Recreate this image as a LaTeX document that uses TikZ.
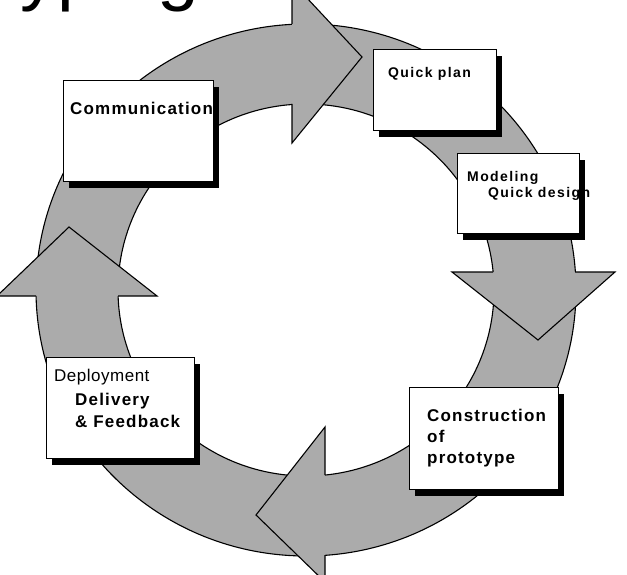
\documentclass[tikz,border=0pt]{standalone}
\usepackage{fontspec}
\setmainfont{Liberation Sans}
\newfontfamily\lblfont{Liberation Sans}[LetterSpace=7]
\newfontfamily\lblsmall{Liberation Sans}[LetterSpace=10]
\newfontfamily\regfont{Liberation Sans}[LetterSpace=3]
\usetikzlibrary{shadows}
\definecolor{ringgray}{RGB}{171,171,171}
\tikzset{
  outl/.style={draw=black, line width=1.1pt, line join=miter},
  box/.style={draw=black, fill=white, line width=1.1pt, inner sep=0pt, anchor=north west,
     general shadow={fill=black, shadow xshift=5pt, shadow yshift=-6pt}},
  lblA/.style={anchor=base west, inner sep=0pt, font=\lblfont\bfseries\fontsize{17}{20}\selectfont},
  lblB/.style={anchor=base west, inner sep=0pt, font=\lblsmall\bfseries\fontsize{14}{17}\selectfont},
  lblR/.style={anchor=base west, inner sep=0pt, font=\regfont\fontsize{17}{20}\selectfont},
}
\begin{document}
\begin{tikzpicture}[x=1pt,y=-1pt]
\useasboundingbox (0,0) rectangle (627,575);
\clip (0,0) rectangle (627,575);
% title (only descenders visible)
\node[anchor=base west, inner sep=0pt, font=\fontsize{75}{80}\selectfont] (title) at (-180,-3) {Prototyping};
% ring
\coordinate (c) at (306,290);
\fill[ringgray, even odd rule] (c) ellipse [x radius=270pt, y radius=266pt]
                               (c) ellipse [x radius=188pt, y radius=186pt];
\draw[outl] (c) ellipse [x radius=270pt, y radius=266pt];
\draw[outl] (c) ellipse [x radius=188pt, y radius=186pt];
% arrow heads
% top (pointing right)
\coordinate (tA) at (292,-18); \coordinate (tT) at (362,57); \coordinate (tB) at (292,143);
\fill[ringgray] (tA) -- (tT) -- (tB) -- cycle;
\draw[outl] (292,24) -- (tA) -- (tT) -- (tB) -- (292,104);
% right (pointing down)
\coordinate (rA) at (615,272); \coordinate (rT) at (538,340); \coordinate (rB) at (452,272);
\fill[ringgray] (rA) -- (rT) -- (rB) -- cycle;
\draw[outl] (575,272) -- (rA) -- (rT) -- (rB) -- (493,272);
% bottom (pointing left)
\coordinate (bA) at (325,582); \coordinate (bT) at (256,515); \coordinate (bB) at (325,427);
\fill[ringgray] (bA) -- (bT) -- (bB) -- cycle;
\draw[outl] (325,555) -- (bA) -- (bT) -- (bB) -- (325,475);
% left (pointing up)
\coordinate (lA) at (-3,296); \coordinate (lT) at (69,227); \coordinate (lB) at (157,296);
\fill[ringgray] (lA) -- (lT) -- (lB) -- cycle;
\draw[outl] (36,296) -- (lA) -- (lT) -- (lB) -- (118,296);
% boxes
\node[box, minimum width=150pt, minimum height=101pt] (comm) at (63,80) {};
\node[box, minimum width=123pt, minimum height=81pt] (plan) at (373,49) {};
\node[box, minimum width=122pt, minimum height=80pt] (model) at (457,153) {};
\node[box, minimum width=149pt, minimum height=102pt] (constr) at (409,387) {};
\node[box, minimum width=148pt, minimum height=101pt] (deploy) at (46,357) {};
% texts
\node[lblA] (tcomm) at (70,115) {Communication};
\node[lblB] (tplan) at (388,78) {Quick plan};
\node[lblB] (tmod1) at (467,182) {Modeling};
\node[lblB] (tmod2) at (488,198) {Quick design};
\node[lblA] (tcon1) at (427,421) {Construction};
\node[lblA] (tcon2) at (427,442) {of};
\node[lblA] (tcon3) at (427,463) {prototype};
\node[lblR] (tdep1) at (54,381) {Deployment};
\node[lblA] (tdep2) at (75,405) {Delivery};
\node[lblA] (tdep3) at (75,427) {\& Feedback};
\end{tikzpicture}
\end{document}
